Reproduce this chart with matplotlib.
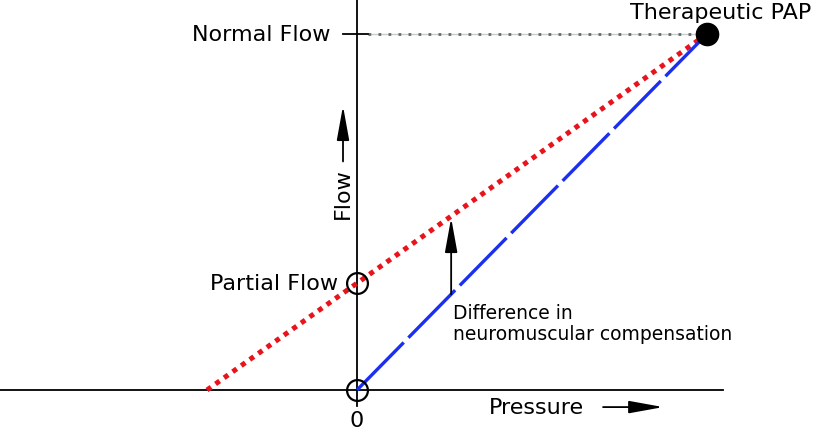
import matplotlib.pyplot as plt
import numpy as np

# schematic values (arbitrary units)
therapeutic_pap = 10.0      # pressure at therapeutic PAP
normal_flow = 10.0          # flow at therapeutic PAP
partial_flow = 3.0          # flow at zero pressure (red line)
arrow_pressure = 2.69       # where the "difference" arrow sits

# lines
red_slope = (normal_flow - partial_flow) / therapeutic_pap
red_x = [-partial_flow / red_slope, therapeutic_pap]
red_y = [0.0, normal_flow]
blue_x = [0.0, therapeutic_pap]
blue_y = [0.0, normal_flow]

# pixel mapping: origin at (357, 391), 35 px per pressure unit, 35.6 px per flow unit
fig = plt.figure(figsize=(8.15, 4.31), dpi=100)
ax = fig.add_axes([0, 0, 1, 1])
ax.set_xlim(-357 / 35, (815 - 357) / 35)
ax.set_ylim((391 - 431) / 35.6, 391 / 35.6)
ax.axis('off')

# axes
ax.plot([-10.3, 10.45], [0, 0], color='black', lw=1.3, zorder=2)
ax.plot([0, 0], [-0.45, 11.5], color='black', lw=1.3, zorder=2)
ax.plot([-0.4, 0.3], [normal_flow, normal_flow], color='black', lw=1.3, zorder=2)

# normal flow dotted guide
ax.plot([0.3, therapeutic_pap], [normal_flow, normal_flow], color='#c8cccc', lw=1.0, zorder=1)
ax.plot([0.3, therapeutic_pap], [normal_flow, normal_flow], color='#5f6b6b', lw=2.0,
        linestyle=(0, (1, 2.6)), zorder=1)

# red dotted and blue dashed lines
ax.plot(red_x, red_y, color='#e8131b', lw=3.6, linestyle=(0, (1, 1.1)), zorder=3)
ax.plot(blue_x, blue_y, color='#1b2ff0', lw=2.4, linestyle=(0, (20, 2)), zorder=3)

# markers
ax.plot([0, 0], [0, partial_flow], 'o', ms=15, mfc='none', mec='black', mew=1.6, zorder=4)
ax.plot([therapeutic_pap], [normal_flow], 'o', ms=16, color='black', zorder=5)

head = '-|>,head_length=2.1,head_width=0.38'

# difference arrow
red_at = partial_flow + red_slope * arrow_pressure
ax.annotate('', xy=(arrow_pressure, red_at - 0.05), xytext=(arrow_pressure, arrow_pressure),
            arrowprops=dict(arrowstyle=head, color='black', lw=1.3, shrinkA=0, shrinkB=0),
            zorder=6)

# texts
fs = 16
ax.text(12.98, 10.62, 'Therapeutic PAP', fontsize=fs, ha='right', va='center')
ax.text(-0.75, normal_flow, 'Normal Flow', fontsize=fs, ha='right', va='center')
ax.text(-0.55, partial_flow, 'Partial Flow', fontsize=fs, ha='right', va='center')
ax.text(0, -0.85, '0', fontsize=fs, ha='center', va='center')
ax.text(3.78, -0.48, 'Pressure', fontsize=fs, ha='left', va='center')
ax.annotate('', xy=(8.75, -0.48), xytext=(7.03, -0.48),
            arrowprops=dict(arrowstyle=head, color='black', lw=1.3, shrinkA=0, shrinkB=0))
ax.text(-0.4, 5.56, 'Flow', fontsize=fs, ha='center', va='center', rotation=90)
ax.annotate('', xy=(-0.4, 7.98), xytext=(-0.4, 6.42),
            arrowprops=dict(arrowstyle=head, color='black', lw=1.3, shrinkA=0, shrinkB=0))
ax.text(2.75, 2.45, 'Difference in\nneuromuscular compensation', fontsize=13.5,
        ha='left', va='top', linespacing=1.15)

fig.savefig('out.png', dpi=100)
